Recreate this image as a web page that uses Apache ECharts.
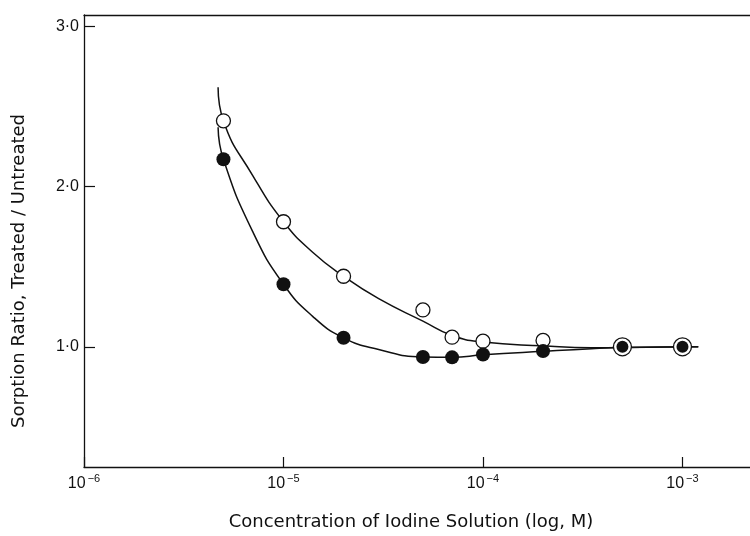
<!DOCTYPE html>
<html>
<head>
<meta charset="utf-8">
<script src="https://cdn.jsdelivr.net/npm/echarts@6/dist/echarts.min.js"></script>
<style>
  html, body { margin: 0; padding: 0; background: #fff; }
  #chart { width: 750px; height: 536px; }
</style>
</head>
<body>
<div id="chart"></div>
<script>
var chart = echarts.init(document.getElementById('chart'));

// measured points (iodine concentration, M)
var conc = [5e-6, 1e-5, 2e-5, 5e-5, 7e-5, 1e-4, 2e-4, 5e-4, 1e-3];
var openRatio = [2.41, 1.78, 1.44, 1.23, 1.06, 1.035, 1.04, 1.0, 1.0];
var filledRatio = [2.17, 1.39, 1.056, 0.936, 0.934, 0.952, 0.973, 1.0, 1.0];

// fitted curves
var openCurveConc = [4.7e-6, 5e-6, 7e-6, 1e-5, 1.4e-5, 2e-5, 3e-5, 5e-5, 7e-5, 1e-4, 2e-4, 3.5e-4, 5e-4, 1.2e-3];
var openCurveRatio = [2.62, 2.41, 2.07, 1.78, 1.59, 1.44, 1.30, 1.16, 1.07, 1.03, 1.006, 0.994, 0.995, 1.0];
var filledCurveConc = [4.7e-6, 5e-6, 7e-6, 1e-5, 1.4e-5, 2e-5, 3e-5, 5e-5, 7e-5, 1e-4, 2e-4, 3.5e-4, 5e-4, 1.2e-3];
var filledCurveRatio = [2.37, 2.17, 1.72, 1.39, 1.19, 1.056, 0.983, 0.936, 0.934, 0.95, 0.972, 0.988, 0.995, 1.0];

// axis ticks
var xTickValues = [1e-6, 1e-5, 1e-4, 1e-3];
var xTickExps = ['-6', '-5', '-4', '-3'];
var yTickValues = [1, 2, 3];
var yTickLabels = ['1·0', '2·0', '3·0'];

function pairs(xs, ys) {
  var out = [];
  for (var i = 0; i < xs.length; i++) out.push([xs[i], ys[i]]);
  return out;
}
function same(i) { return openRatio[i] === filledRatio[i]; }

var font = 'Liberation Sans';
var nameFont = 'DejaVu Sans';

var option = {
  backgroundColor: '#fff',
  animation: false,
  grid: { left: 84, right: 0, top: 15, bottom: 66 },
  xAxis: [{
    type: 'log',
    min: 1e-6,
    max: 0.00218,
    name: 'Concentration of Iodine Solution (log, M)',
    nameLocation: 'middle',
    nameGap: 46,
    nameTextStyle: { color: '#111', fontSize: 18, fontFamily: nameFont, padding: [0, 12, 0, 0] },
    axisLine: { lineStyle: { color: '#111', width: 1.3 } },
    axisTick: { inside: true, length: 10, lineStyle: { color: '#111', width: 1.2 }, customValues: xTickValues },
    axisLabel: {
      margin: 6,
      customValues: xTickValues,
      formatter: function (v) {
        var i = -1;
        for (var k = 0; k < xTickValues.length; k++) {
          if (Math.abs(Math.log10(v) - Math.log10(xTickValues[k])) < 1e-6) i = k;
        }
        return i < 0 ? '' : '{b|10}{s|' + xTickExps[i].replace('-', '−') + '}';
      },
      rich: {
        b: { fontSize: 16, fontFamily: font, color: '#111', verticalAlign: 'bottom', lineHeight: 18 },
        s: { fontSize: 11, fontFamily: font, color: '#111', verticalAlign: 'top', padding: [0, 0, 8, 2] }
      }
    },
    splitLine: { show: false }
  }, {
    type: 'value',
    position: 'top',
    min: 0, max: 1,
    axisLine: { show: true, lineStyle: { color: '#111', width: 1.3 } },
    axisTick: { show: false },
    axisLabel: { show: false },
    splitLine: { show: false }
  }],
  yAxis: {
    type: 'value',
    min: 0.25,
    max: 3.07,
    name: 'Sorption Ratio, Treated / Untreated',
    nameLocation: 'middle',
    nameGap: 56,
    nameTextStyle: { color: '#111', fontSize: 18, fontFamily: nameFont, padding: [0, 60, 0, 0] },
    axisLine: { show: true, lineStyle: { color: '#111', width: 1.3 } },
    axisTick: { inside: true, length: 11, lineStyle: { color: '#111', width: 1.2 }, customValues: yTickValues },
    axisLabel: {
      margin: 5,
      customValues: yTickValues,
      fontSize: 16,
      fontFamily: font,
      color: '#111',
      formatter: function (v) {
        var i = yTickValues.indexOf(Math.round(v * 1000) / 1000);
        return i < 0 ? '' : yTickLabels[i];
      }
    },
    splitLine: { show: false }
  },
  series: [{
    name: 'treated-open curve',
    type: 'line',
    data: pairs(openCurveConc, openCurveRatio),
    smooth: 0.5,
    showSymbol: false,
    lineStyle: { color: '#111', width: 1.5 },
    z: 2
  }, {
    name: 'treated-filled curve',
    type: 'line',
    data: pairs(filledCurveConc, filledCurveRatio),
    smooth: 0.5,
    showSymbol: false,
    lineStyle: { color: '#111', width: 1.5 },
    z: 2
  }, {
    name: 'open',
    type: 'scatter',
    data: pairs(conc, openRatio),
    symbol: 'circle',
    symbolSize: function (v, p) { return same(p.dataIndex) ? 18 : 14; },
    itemStyle: { color: '#fff', borderColor: '#111', borderWidth: 1.3, opacity: 1 },
    z: 3
  }, {
    name: 'filled',
    type: 'scatter',
    data: pairs(conc, filledRatio),
    symbol: 'circle',
    symbolSize: function (v, p) { return same(p.dataIndex) ? 12 : 14; },
    itemStyle: { color: '#111', borderColor: '#111', borderWidth: 0, opacity: 1 },
    z: 4
  }]
};
chart.setOption(option);
</script>
</body>
</html>
